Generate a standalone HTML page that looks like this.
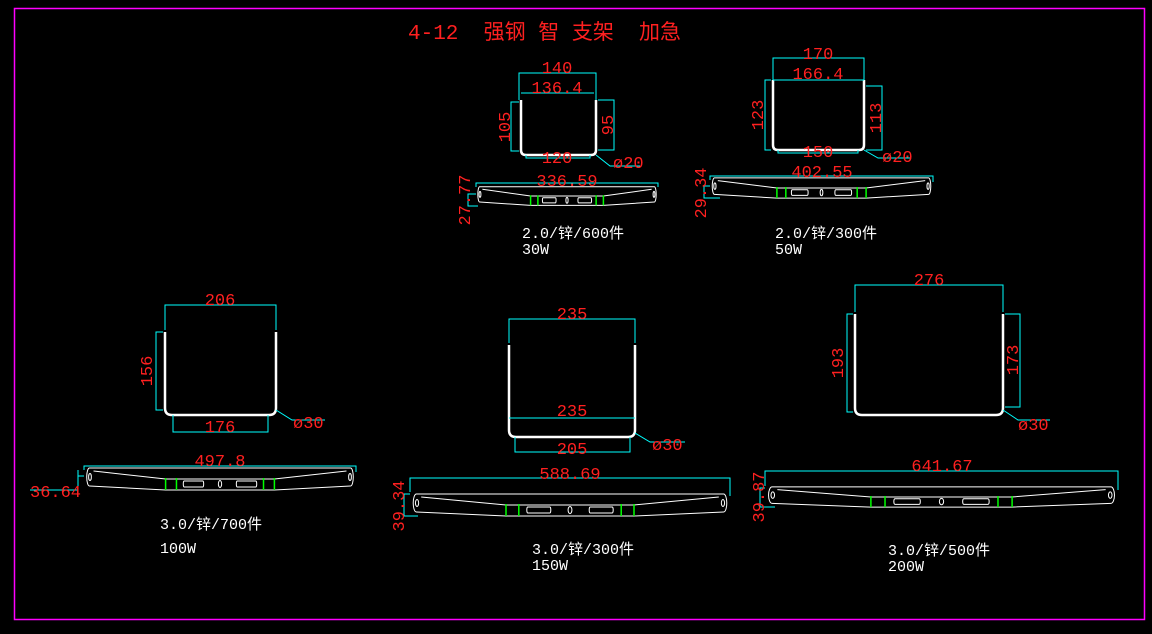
<!DOCTYPE html>
<html><head><meta charset="utf-8"><style>
html,body{margin:0;padding:0;background:#000;}
svg{display:block}
.d{stroke:#00ffff;stroke-width:1;fill:none}
.u{stroke:#fff;stroke-width:2.5;fill:none}
.r{fill:#ff2020;font-family:"Liberation Mono","Noto Sans CJK SC",monospace;font-size:17px}
.w{fill:#fff;font-family:"Liberation Mono","Noto Sans CJK SC",monospace;font-size:15px}
.b *{vector-effect:non-scaling-stroke}
</style></head><body>
<svg width="1152" height="634" viewBox="0 0 1152 634" xmlns="http://www.w3.org/2000/svg">
<defs>
<g id="bar" class="b">
<path d="M20,2 L980,2 A10,9 0 0 1 980,20 L700,24 L300,24 L20,20 A10,9 0 0 1 20,2 Z" stroke="#fff" stroke-width="1" fill="none"/>
<path d="M35,5 L300,13 L700,13 L965,5" stroke="#fff" stroke-width="1" fill="none"/>
<path d="M300,12V24M340,12V24M660,12V24M700,12V24" stroke="#00ff00" stroke-width="1.5"/>
<rect x="365" y="15" width="75" height="6" rx="3" stroke="#fff" fill="none"/>
<rect x="560" y="15" width="75" height="6" rx="3" stroke="#fff" fill="none"/>
<ellipse cx="500" cy="18" rx="6" ry="3.5" stroke="#fff" fill="none"/>
<ellipse cx="22" cy="11" rx="5" ry="3.5" stroke="#fff" fill="none"/>
<ellipse cx="978" cy="11" rx="5" ry="3.5" stroke="#fff" fill="none"/>
</g>
</defs>
<rect x="14.5" y="8.5" width="1130" height="611" fill="none" stroke="#ff00ff" stroke-width="1.5"/>
<text x="408" y="39" class="r" style="font-size:21px;white-space:pre" xml:space="preserve">4-12  强钢 智 支架  加急</text>

<!-- 30W -->
<path class="u" d="M521,100 V150 Q521,155 526,155 H591 Q596,155 596,150 V100"/>
<path class="d" d="M519,100V73H596V100M521,93H594M519,102H511V151H519M598,100H614V150H598M526,155V158H590V155M596,155L610,166H640"/>
<text class="r" x="557" y="73" text-anchor="middle">140</text>
<text class="r" x="557" y="93" text-anchor="middle">136.4</text>
<text class="r" x="557" y="163" text-anchor="middle">120</text>
<text class="r" x="613" y="168">ø20</text>
<text class="r" transform="translate(510,127) rotate(-90)" text-anchor="middle">105</text>
<text class="r" transform="translate(613,125) rotate(-90)" text-anchor="middle">95</text>
<path class="d" d="M476,187V183H658V187M476,194H468V206H478"/>
<use href="#bar" transform="translate(476,185) scale(0.182,0.85)"/>
<text class="r" x="567" y="186" text-anchor="middle">336.59</text>
<text class="r" transform="translate(470,200) rotate(-90)" text-anchor="middle">27.77</text>
<text class="w" x="522" y="238">2.0/锌/600件</text>
<text class="w" x="522" y="254">30W</text>

<!-- 50W -->
<path class="u" d="M773,80 V145 Q773,150 778,150 H859 Q864,150 864,145 V80"/>
<path class="d" d="M773,80V58H864V80M773,80H864M771,80H765V150H771M866,86H882V150H866M778,150V153H858V150M864,150L878,158H910"/>
<text class="r" x="818" y="59" text-anchor="middle">170</text>
<text class="r" x="818" y="79" text-anchor="middle">166.4</text>
<text class="r" x="818" y="157" text-anchor="middle">150</text>
<text class="r" x="882" y="162">ø20</text>
<text class="r" transform="translate(763,115) rotate(-90)" text-anchor="middle">123</text>
<text class="r" transform="translate(881,118) rotate(-90)" text-anchor="middle">113</text>
<path class="d" d="M710,180V176H933V182M710,186H704V198H720"/>
<use href="#bar" transform="translate(710,176) scale(0.223,0.92)"/>
<text class="r" x="822" y="177" text-anchor="middle">402.55</text>
<text class="r" transform="translate(706,193) rotate(-90)" text-anchor="middle">29.34</text>
<text class="w" x="775" y="238">2.0/锌/300件</text>
<text class="w" x="775" y="254">50W</text>

<!-- 100W -->
<path class="u" d="M165,332 V408 Q165,415 172,415 H269 Q276,415 276,408 V332"/>
<path class="d" d="M165,330V305H276V330M163,332H156V410H163M173,415V432H268V415M276,410L292,420H325"/>
<text class="r" x="220" y="305" text-anchor="middle">206</text>
<text class="r" x="220" y="432" text-anchor="middle">176</text>
<text class="r" x="293" y="428">ø30</text>
<text class="r" transform="translate(152,371) rotate(-90)" text-anchor="middle">156</text>
<path class="d" d="M84,470V466H356V472M78,470V490H30M78,476H84"/>
<use href="#bar" transform="translate(84,466) scale(0.272,1)"/>
<text class="r" x="220" y="466" text-anchor="middle">497.8</text>
<text class="r" x="30" y="497">36.64</text>
<text class="w" x="160" y="529">3.0/锌/700件</text>
<text class="w" x="160" y="553">100W</text>

<!-- 150W -->
<path class="u" d="M509,345 V430 Q509,437 516,437 H628 Q635,437 635,430 V345"/>
<path class="d" d="M509,343V319H635V343M509,418H635M515,437V452H630V437M635,433L650,442H685"/>
<text class="r" x="572" y="319" text-anchor="middle">235</text>
<text class="r" x="572" y="416" text-anchor="middle">235</text>
<text class="r" x="572" y="454" text-anchor="middle">205</text>
<text class="r" x="652" y="450">ø30</text>
<path class="d" d="M410,492V478H730V496M410,494H404V516H418"/>
<use href="#bar" transform="translate(410,492) scale(0.32,1)"/>
<text class="r" x="570" y="479" text-anchor="middle">588.69</text>
<text class="r" transform="translate(404,506) rotate(-90)" text-anchor="middle">39.34</text>
<text class="w" x="532" y="554">3.0/锌/300件</text>
<text class="w" x="532" y="570">150W</text>

<!-- 200W -->
<path class="u" d="M855,314 V408 Q855,415 862,415 H996 Q1003,415 1003,408 V314"/>
<path class="d" d="M855,312V285H1003V312M853,314H847V412H853M1005,314H1020V407H1005M1003,410L1018,420H1050"/>
<text class="r" x="929" y="285" text-anchor="middle">276</text>
<text class="r" x="1018" y="430">ø30</text>
<text class="r" transform="translate(843,363) rotate(-90)" text-anchor="middle">193</text>
<text class="r" transform="translate(1018,360) rotate(-90)" text-anchor="middle">173</text>
<path class="d" d="M765,486V471H1118V490M765,488H760V507H775"/>
<use href="#bar" transform="translate(765,485) scale(0.353,0.92)"/>
<text class="r" x="942" y="471" text-anchor="middle">641.67</text>
<text class="r" transform="translate(764,497) rotate(-90)" text-anchor="middle">39.87</text>
<text class="w" x="888" y="555">3.0/锌/500件</text>
<text class="w" x="888" y="571">200W</text>
</svg>
</body></html>
